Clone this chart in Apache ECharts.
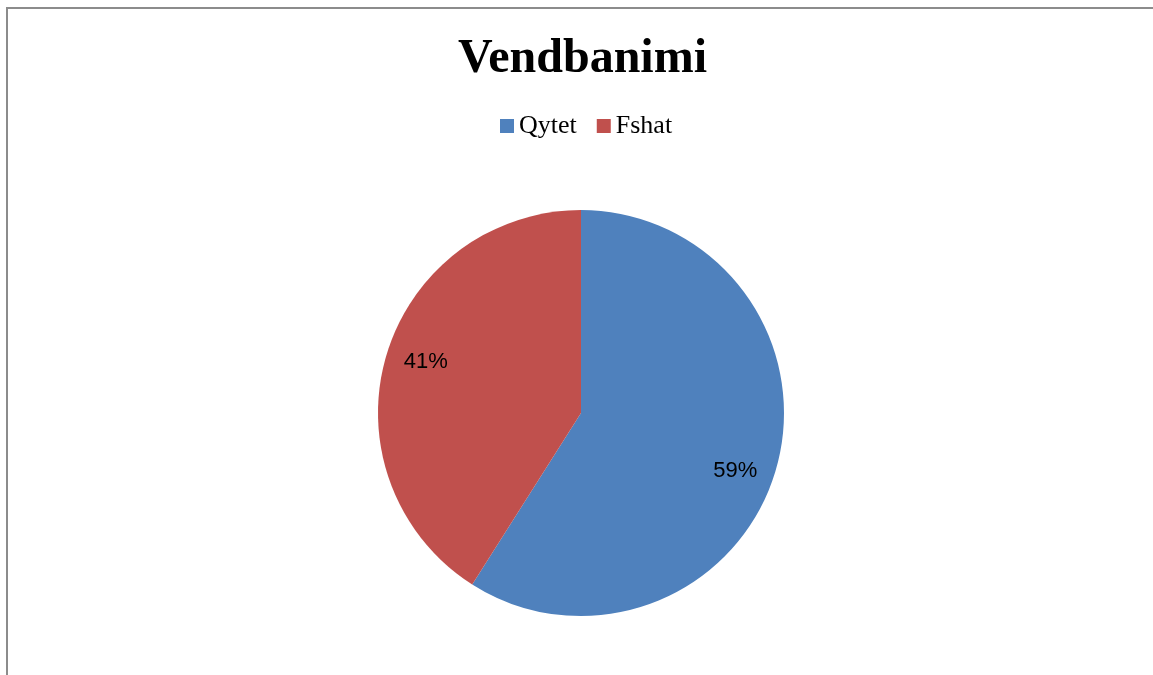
<!DOCTYPE html>
<html><head><meta charset="utf-8">
<script src="https://cdn.jsdelivr.net/npm/echarts@6/dist/echarts.min.js"></script>
<style>html,body{margin:0;padding:0;background:#fff}#c{width:1153px;height:675px}</style>
</head><body><div id="c"></div>
<script>
const titleText = 'Vendbanimi';
const categories = ['Qytet', 'Fshat'];
const values = [59, 41];
const colors = ['#4F81BD', '#C0504D'];

const data = categories.map((n, i) => ({ name: n, value: values[i], itemStyle: { color: colors[i] } }));
const labelData = categories.map((n, i) => ({ name: n, value: values[i] }));
const labelShift = [[-7, 11], [6, -4]];

const chart = echarts.init(document.getElementById('c'));
chart.setOption({
  animation: false,
  backgroundColor: '#fff',
  graphic: [{
    type: 'rect', silent: true,
    shape: { x: 7, y: 8, width: 1300, height: 800 },
    style: { fill: 'none', stroke: '#8c8c8c', lineWidth: 2 }
  }],
  title: {
    text: titleText, left: 458, top: 36, padding: 0,
    textStyle: { fontFamily: 'Liberation Serif', fontSize: 48, fontWeight: 'bold', color: '#000' }
  },
  legend: {
    data: categories, left: 500, top: 113, padding: 0, itemWidth: 14, itemHeight: 14, itemGap: 20,
    icon: 'rect',
    textStyle: { fontFamily: 'Liberation Serif', fontSize: 26, color: '#000', lineHeight: 26, padding: [0, 0, 0, 0] }
  },
  series: [{
    type: 'pie', center: [581, 413], radius: [0, 203], startAngle: 90, clockwise: true,
    data: data, label: { show: false }, labelLine: { show: false }, silent: true,
    emphasis: { disabled: true }
  }, {
    type: 'pie', center: [581, 413], radius: [127, 203], startAngle: 90, clockwise: true,
    data: labelData, silent: true, emphasis: { disabled: true },
    itemStyle: { color: 'rgba(0,0,0,0)' },
    legendHoverLink: false,
    label: { show: true, position: 'inside', formatter: p => p.value + '%',
      fontFamily: 'Liberation Sans', fontSize: 22, color: '#000' },
    labelLayout: p => ({ dx: labelShift[p.dataIndex][0], dy: labelShift[p.dataIndex][1] }),
    labelLine: { show: false }
  }]
});
</script></body></html>
